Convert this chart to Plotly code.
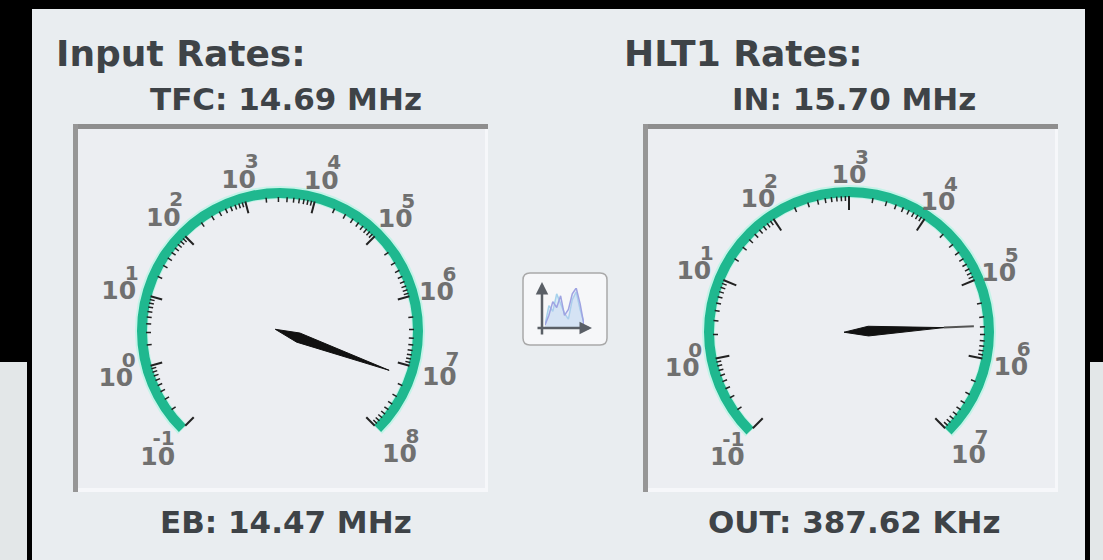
import math
import plotly.graph_objects as go

W, H = 1103, 560

# ---- data ----
left_title = "Input Rates:"
left_top = "TFC: 14.69 MHz"
left_bottom = "EB: 14.47 MHz"
right_title = "HLT1 Rates:"
right_top = "IN: 15.70 MHz"
right_bottom = "OUT: 387.62 KHz"

left_value = 14.47e6
right_value = 387.62e3

left_exponents = [-1, 0, 1, 2, 3, 4, 5, 6, 7, 8]
right_exponents = [-1, 0, 1, 2, 3, 4, 5, 6, 7]

left_label_radius = [173, 170, 167, 165, 160, 159, 163, 162, 165, 169]
right_label_radius = [172, 170, 168, 164, 160, 160, 162, 165, 169]

minor_multipliers = [2, 3, 4, 5, 6, 7, 8, 9]

icon_x = [0, 1, 2, 3, 4, 5, 6, 7, 8, 9, 10]
icon_series_a = [0.05, 0.55, 0.4, 0.85, 0.6, 0.35, 0.2, 0.7, 0.9, 0.45, 0.1]
icon_series_b = [0.05, 0.3, 0.65, 0.5, 0.8, 0.3, 0.45, 0.85, 1.0, 0.6, 0.05]

# ---- style ----
SWEEP = 270
PANEL = "#E9EDF0"
INNER = "#ECEEF2"
GREEN = "#1FB88F"
HALO = "#C4F3E8"
LABEL = "#707070"
TEXT = "#3E4347"
FONT = "DejaVu Sans"
PLOT_R = 205


def px(x):
    return x / W


def py(y):
    return 1 - y / H


def gauge_traces(name, cx, cy, exps, label_r, value, r_out, r_in, r_major, r_minor,
                 wedge_len, tip_len):
    lo, hi = exps[0], exps[-1]

    def scale(v):
        return (math.log10(v) - lo) / (hi - lo) * SWEEP

    def shifted(r, t, dx, dy):
        a = math.radians(t - 135)
        x = r * math.sin(a) + dx
        y = r * math.cos(a) + dy
        return math.hypot(x, y), (math.degrees(math.atan2(x, y)) + 135) % 360

    out = []
    common = dict(subplot=name, showlegend=False, hoverinfo="skip")
    # ticks
    tr, tt = [], []
    for e in exps:
        t = scale(10.0 ** e)
        tr += [r_major, r_in + 1, None]
        tt += [t, t, None]
    out.append(go.Scatterpolar(r=tr, theta=tt, mode="lines",
                               line=dict(color="#222222", width=2), **common))
    mr, mt = [], []
    for e in exps[:-1]:
        for m in minor_multipliers:
            t = scale(m * 10.0 ** e)
            mr += [r_minor, r_in + 1, None]
            mt += [t, t, None]
    out.append(go.Scatterpolar(r=mr, theta=mt, mode="lines",
                               line=dict(color="#222222", width=1.5), **common))
    # arc
    out.append(go.Barpolar(r=[r_out - r_in + 3], base=[r_in - 1], theta=[SWEEP / 2], width=[SWEEP + 0.6],
                           marker=dict(color=HALO, line=dict(width=0)), **common))
    out.append(go.Barpolar(r=[r_out - r_in], base=[r_in], theta=[SWEEP / 2], width=[SWEEP],
                           marker=dict(color=GREEN, line=dict(width=0)), **common))
    # labels
    lt = [scale(10.0 ** e) for e in exps]
    br, bt = [], []
    er, et = [], []
    for e, r, t in zip(exps, label_r, lt):
        rr, tn = shifted(r, t, 0, -5)
        br.append(rr)
        bt.append(tn)
        rr, tn = shifted(r, t, 6 if e < 0 else 13, 13)
        er.append(rr)
        et.append(tn)
    out.append(go.Scatterpolar(r=br, theta=bt, mode="text", text=["10"] * len(exps),
                               textposition="middle center",
                               textfont=dict(family=FONT, size=25, color=LABEL, weight="bold"), **common))
    out.append(go.Scatterpolar(r=er, theta=et, mode="text", text=[str(e) for e in exps],
                               textposition="middle center",
                               textfont=dict(family=FONT, size=20, color=LABEL, weight="bold"), **common))
    # needle
    t = scale(value)
    nr = [5, 20, wedge_len, 20, 5]
    nt = [t + 180, t + 14, t, t - 14, t + 180]
    out.append(go.Scatterpolar(r=nr, theta=nt, mode="lines", fill="toself", fillcolor="#111111",
                               line=dict(color="#111111", width=1), **common))
    out.append(go.Scatterpolar(r=[wedge_len, tip_len], theta=[t, t], mode="lines",
                               line=dict(color="#555555", width=2), **common))
    polar = dict(
        domain=dict(x=[px(cx - PLOT_R), px(cx + PLOT_R)], y=[py(cy + PLOT_R), py(cy - PLOT_R)]),
        bgcolor="rgba(0,0,0,0)",
        radialaxis=dict(visible=False, range=[0, PLOT_R]),
        angularaxis=dict(visible=False, direction="clockwise", rotation=225),
    )
    return out, polar


fig = go.Figure()
tr1, polar1 = gauge_traces("polar", 280, 331, left_exponents, left_label_radius, left_value,
                           143, 133, 122, 129, 116, 116)
tr2, polar2 = gauge_traces("polar2", 849, 332, right_exponents, right_label_radius, right_value,
                           145, 135, 122, 131, 95, 125)
fig.add_traces(tr1 + tr2)

# icon series
fig.add_trace(go.Scatter(x=icon_x, y=icon_series_a, mode="lines", fill="tozeroy",
                         fillcolor="rgba(170,215,240,0.35)", line=dict(color="#A6D2EC", width=1.5),
                         xaxis="x", yaxis="y", showlegend=False, hoverinfo="skip"))
fig.add_trace(go.Scatter(x=icon_x, y=icon_series_b, mode="lines", fill="tozeroy",
                         fillcolor="rgba(190,195,240,0.2)", line=dict(color="#9EA3E2", width=1.5),
                         xaxis="x", yaxis="y", showlegend=False, hoverinfo="skip"))


def rect(x0, y0, x1, y1, color):
    return dict(type="rect", xref="paper", yref="paper", x0=px(x0), x1=px(x1), y0=py(y1), y1=py(y0),
                fillcolor=color, line=dict(width=0), layer="below")


def frame(x0, y0, x1, y1):
    return [
        rect(x0, y0, x1, y1, "#F6F7FA"),
        rect(x0 + 5, y0 + 5, x1 - 3, y1 - 4, INNER),
        rect(x0, y0, x1, y0 + 5, "#8E8E8E"),
        rect(x0, y0, x0 + 5, y1, "#969696"),
    ]


shapes = [
    rect(0, 362, 27, 560, "#E3E7E8"),
    rect(1090, 362, 1103, 560, "#E3E7E8"),
    rect(32, 9, 1085, 560, PANEL),
] + frame(73, 124, 488, 492) + frame(643, 124, 1058, 492)

x0, x1, y0, y1 = px(523), px(607), py(345), py(273)
r = 7 / W
ry = 7 / H
shapes.append(dict(
    type="path", xref="paper", yref="paper", layer="below",
    path=(f"M {x0 + r} {y0} L {x1 - r} {y0} Q {x1} {y0} {x1} {y0 + ry} L {x1} {y1 - ry} "
          f"Q {x1} {y1} {x1 - r} {y1} L {x0 + r} {y1} Q {x0} {y1} {x0} {y1 - ry} "
          f"L {x0} {y0 + ry} Q {x0} {y0} {x0 + r} {y0} Z"),
    fillcolor="#F6F7F9", line=dict(color="#A9A9A9", width=1.5),
))


def label(text, x, y, size, anchor="center"):
    return dict(text=f"<b>{text}</b>", xref="paper", yref="paper", x=px(x), y=py(y),
                xanchor=anchor, yanchor="middle", showarrow=False,
                font=dict(family=FONT, size=size, color=TEXT))


def arrow(x_head, y_head, x_tail, y_tail):
    return dict(text="", xref="paper", yref="paper", x=px(x_head), y=py(y_head),
                ax=x_tail - x_head, ay=y_tail - y_head, axref="pixel", ayref="pixel",
                showarrow=True, arrowhead=2, arrowsize=1, arrowwidth=2.5, arrowcolor="#5A5F66")


annotations = [
    label(left_title, 54, 53, 36, "left"),
    label(left_top, 286, 99, 31),
    label(left_bottom, 286, 522, 31),
    label(right_title, 622, 53, 36, "left"),
    label(right_top, 854, 99, 31),
    label(right_bottom, 854, 522, 31),
    arrow(542, 282, 542, 336),
    arrow(592, 328, 536, 328),
]

hidden = dict(visible=False, fixedrange=True)
fig.update_layout(
    width=W, height=H, margin=dict(l=0, r=0, t=0, b=0), autosize=False,
    paper_bgcolor="#000000", plot_bgcolor="rgba(0,0,0,0)",
    polar=polar1, polar2=polar2,
    xaxis=dict(domain=[px(545), px(584)], range=[0, 10], **hidden),
    yaxis=dict(domain=[py(327), py(288)], range=[0, 1], **hidden),
    shapes=shapes, annotations=annotations, showlegend=False, hovermode=False,
)

fig.write_html("out.html", config=dict(displayModeBar=False),
               post_script="document.body.style.margin='0';document.body.style.background='#000';")
